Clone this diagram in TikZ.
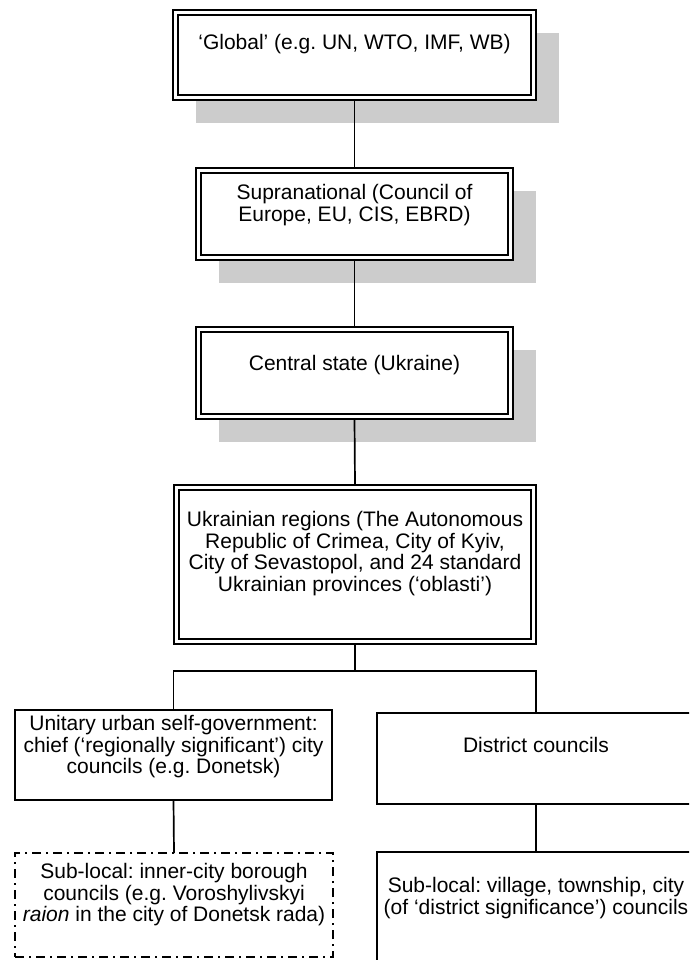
\documentclass[tikz,border=0pt]{standalone}
\usepackage{fontspec}
\setmainfont{Liberation Sans}
\usetikzlibrary{calc}
\frenchspacing
\begin{document}
\begin{tikzpicture}[x=1pt,y=-1pt,
  every node/.style={inner sep=0pt,outer sep=0pt},
  lvlbox/.style={draw,fill=white,line width=2pt,rectangle},
  plainbox/.style={draw,fill=white,line width=1.6pt,rectangle},
  subbox/.style={draw,fill=white,line width=1.6pt,rectangle,
    dash pattern=on 9pt off 5pt on 2pt off 5pt},
  shade/.style={fill=black!20,draw=none},
  innerline/.style={line width=1.3pt},
  link/.style={line width=1.7pt},
  label/.style={anchor=base,align=center,
    font=\fontsize{21}{21.5}\selectfont}]
\useasboundingbox (0,0) rectangle (689,960);
\fill[white] (0,0) rectangle (689,960);
\clip (0,0) rectangle (689,960);

% drop shadows of the upper three levels
\fill[shade] (196,33) rectangle (559,123);
\fill[shade] (219,191) rectangle (536,283);
\fill[shade] (219,350) rectangle (536,442);

% level boxes
\node[lvlbox,minimum width=363pt,minimum height=90pt] (b1) at (354.5,55) {};
\node[lvlbox,minimum width=317pt,minimum height=92pt] (b2) at (354.5,214) {};
\node[lvlbox,minimum width=317pt,minimum height=92pt] (b3) at (354.5,373) {};
\node[lvlbox,minimum width=362pt,minimum height=159pt] (b4) at (355,564.5) {};
\node[plainbox,minimum width=317pt,minimum height=90pt] (b5) at (173.5,755) {};
\node[plainbox,minimum width=318pt,minimum height=91pt] (b6) at (536,758.5) {};
\node[subbox,minimum width=318pt,minimum height=104pt] (b7) at (174,905) {};
\node[plainbox,minimum width=318pt,minimum height=148pt] (b8) at (536,926) {};

% inner rule of the double frames
\foreach \b in {b1,b2,b3,b4}
  \draw[innerline] ($(\b.north west)+(5,5)$) rectangle ($(\b.south east)+(-5,-5)$);

% connectors
\coordinate (split) at (355,671);
\draw[link] (b1.south) -- (b2.north);
\draw[link] (b2.south) -- (b3.north);
\draw[link] (b3.south) -- (b4.north);
\draw[link] (b4.south) -- (split);
\draw[link] (b5.north) |- (split) -| (b6.north);
\draw[link] (b5.south) -- (b7.north);
\draw[link] (b6.south) -- (b8.north);

% labels (a multi-line label sits on the baseline of its last line)
\node[label] (t1) at (354.5,50) {‘Global’ (e.g. UN, WTO, IMF, WB)};
\node[label] (t2) at (354.5,221.5) {Supranational (Council of\\Europe, EU, CIS, EBRD)};
\node[label] (t3) at (354.5,370) {Central state (Ukraine)};
\node[label] (t4) at (355,591) {Ukrainian regions (The Autonomous\\Republic of Crimea, City of Kyiv,\\City of Sevastopol, and 24 standard\\Ukrainian provinces (‘oblasti’)};
\node[label] (t5) at (173.5,773.5) {Unitary urban self-government:\\chief (‘regionally significant’) city\\councils (e.g. Donetsk)};
\node[label] (t6) at (536,752.7) {District councils};
\node[label] (t7) at (174,921.7) {Sub-local: inner-city borough\\councils (e.g. Voroshylivskyi\\\textit{raion} in the city of Donetsk rada)};
\node[label] (t8) at (536,914) {Sub-local: village, township, city\\(of ‘district significance’) councils};
\end{tikzpicture}
\end{document}
